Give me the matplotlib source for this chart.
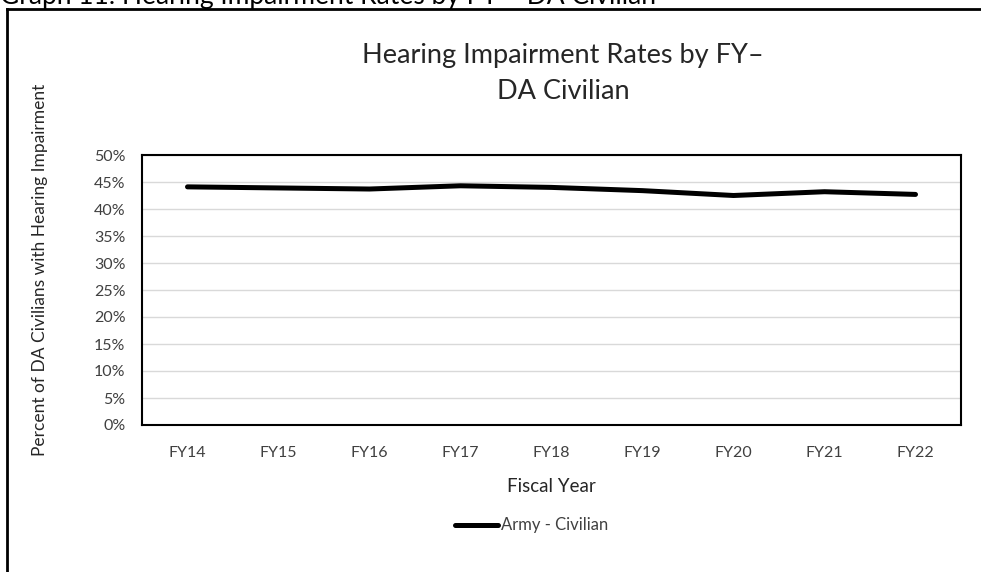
import numpy as np
import matplotlib.pyplot as plt
from matplotlib.lines import Line2D
from matplotlib.ticker import FuncFormatter

plt.rcParams['font.family'] = ['Lato', 'DejaVu Sans']

years = ['FY14', 'FY15', 'FY16', 'FY17', 'FY18', 'FY19', 'FY20', 'FY21', 'FY22']
army_civilian = [44.1, 43.9, 43.7, 44.3, 44.0, 43.4, 42.5, 43.2, 42.7]
yticks = np.arange(0, 51, 5)

W, H = 981, 572
fig = plt.figure(figsize=(W / 100, H / 100), dpi=100)
ax = fig.add_axes([142 / W, 1 - 425 / H, (961 - 142) / W, (425 - 155) / H])

x = np.arange(len(years))
ax.plot(x, army_civilian, color='black', lw=3.6, solid_capstyle='round',
        solid_joinstyle='round', zorder=3)

ax.set_xlim(-0.5, len(years) - 0.5)
ax.set_ylim(0, 50)
ax.set_yticks(yticks)
ax.yaxis.set_major_formatter(FuncFormatter(lambda v, p: '{:.0f}%'.format(v)))
ax.set_xticks(x)
ax.set_xticklabels(years)
ax.tick_params(axis='both', length=0, labelsize=11.5, colors='#404040')
ax.tick_params(axis='x', pad=15)
ax.tick_params(axis='y', pad=12)
ax.grid(axis='y', color='#d9d9d9', lw=1)
ax.set_axisbelow(True)
for s in ax.spines.values():
    s.set_color('black')
    s.set_linewidth(1.5)

# titles and labels (figure pixel coordinates)
fig.text(563 / W, 1 - 63 / H, 'Hearing Impairment Rates by FY\u2013', ha='center',
         va='baseline', fontsize=19.5, color='#262626')
fig.text(563 / W, 1 - 99 / H, 'DA Civilian', ha='center', va='baseline',
         fontsize=19.5, color='#262626')
fig.text(551 / W, 1 - 487 / H, 'Fiscal Year', ha='center', va='center',
         fontsize=13.5, color='#262626')
fig.text(40 / W, 1 - 270 / H, 'Percent of DA Civilians with Hearing Impairment',
         ha='center', va='center', rotation=90, fontsize=12.5, color='#262626')

# legend
fig.add_artist(Line2D([455 / W, 498 / W], [1 - 525 / H, 1 - 525 / H],
                      color='black', lw=3.6, solid_capstyle='round'))
fig.text(501 / W, 1 - 525 / H, 'Army - Civilian', ha='left', va='center',
         fontsize=12, color='#404040')

# page caption, cut off at the top edge, and the frame around the chart
fig.text(0, 1 - 4 / H, 'Graph 11: Hearing Impairment Rates by FY \u2013 DA Civilian',
         ha='left', va='baseline', fontsize=19, color='black')
fig.add_artist(Line2D([7 / W, 1], [1 - 9 / H, 1 - 9 / H], color='black', lw=2))
fig.add_artist(Line2D([7 / W, 7 / W], [0, 1 - 9 / H], color='black', lw=2))

fig.savefig('out.png', dpi=100)
